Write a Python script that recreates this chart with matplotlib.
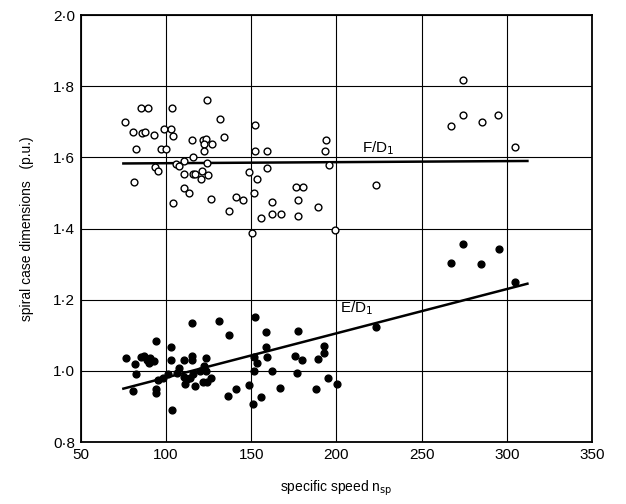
import matplotlib.pyplot as plt
from matplotlib.ticker import FuncFormatter

# F/D1 data (open circles)
f_x = [85.2, 89.7, 103.5, 123.8, 75.8, 131.9, 152.2, 80.9, 86.1, 87.5, 92.7, 99.0,
       102.8, 104.3, 134.3, 115.2, 121.5, 123.6, 127.1, 122.3, 82.4, 97.0, 99.8, 122.5,
       152.2, 159.4, 193.8, 193.4, 115.6, 110.3, 123.8, 105.8, 107.7, 93.8, 95.3, 81.5,
       110.7, 115.6, 117.0, 121.2, 120.4, 124.9, 148.5, 159.4, 153.2, 195.7, 110.7, 113.5,
       104.0, 126.2, 140.8, 145.1, 137.2, 151.5, 162.2, 176.2, 180.3, 177.4, 162.4, 167.2,
       156.0, 177.5, 188.9, 150.7, 199.4, 274.4, 266.9, 274.4, 285.4, 294.6, 305.0, 223.4]
f_y = [1.740, 1.740, 1.740, 1.761, 1.699, 1.709, 1.690, 1.672, 1.670, 1.672, 1.664, 1.680,
       1.680, 1.660, 1.658, 1.649, 1.649, 1.652, 1.639, 1.637, 1.623, 1.623, 1.624, 1.619,
       1.619, 1.619, 1.649, 1.619, 1.600, 1.590, 1.583, 1.581, 1.575, 1.572, 1.561, 1.531,
       1.552, 1.552, 1.552, 1.562, 1.540, 1.550, 1.559, 1.570, 1.539, 1.578, 1.513, 1.499,
       1.472, 1.483, 1.490, 1.479, 1.450, 1.500, 1.476, 1.517, 1.517, 1.479, 1.440, 1.440,
       1.431, 1.435, 1.460, 1.388, 1.397, 1.819, 1.687, 1.719, 1.699, 1.719, 1.629, 1.522]

# E/D1 data (filled circles)
e_x = [76.7, 81.7, 82.6, 80.4, 85.1, 87.3, 88.8, 90.7, 92.9, 89.9, 103.2, 103.2,
       110.3, 115.0, 115.0, 123.4, 107.5, 106.6, 101.0, 98.1, 95.3, 94.4, 94.4, 103.8,
       110.3, 112.2, 110.9, 114.0, 116.8, 120.2, 122.4, 123.4, 121.5, 124.3, 126.2, 136.4,
       141.1, 115.9, 94.2, 115.0, 131.2, 137.0, 152.1, 158.7, 158.9, 159.2, 153.2, 151.8,
       151.6, 162.4, 177.2, 175.5, 179.8, 177.0, 192.9, 192.9, 189.1, 195.1, 200.2, 188.2,
       166.9, 148.4, 155.7, 151.0, 223.2, 274.3, 267.3, 285.0, 295.3, 305.0]
e_y = [1.036, 1.019, 0.991, 0.944, 1.039, 1.042, 1.031, 1.036, 1.028, 1.023, 1.066, 1.030,
       1.031, 1.042, 1.031, 1.037, 1.009, 0.995, 0.991, 0.981, 0.975, 0.948, 0.939, 0.889,
       0.984, 0.977, 0.962, 0.981, 0.958, 1.000, 1.014, 1.000, 0.969, 0.969, 0.979, 0.928,
       0.948, 0.991, 1.083, 1.134, 1.139, 1.100, 1.152, 1.108, 1.068, 1.038, 1.021, 1.039,
       1.000, 1.000, 1.112, 1.041, 1.030, 0.993, 1.070, 1.049, 1.032, 0.979, 0.964, 0.948,
       0.951, 0.959, 0.927, 0.906, 1.124, 1.356, 1.303, 1.301, 1.343, 1.251]

# trend lines (end points)
f_line_x = [75, 312]
f_line_y = [1.583, 1.590]
e_line_x = [75, 312]
e_line_y = [0.950, 1.245]

x_ticks = [50, 100, 150, 200, 250, 300, 350]
y_ticks = [0.8, 1.0, 1.2, 1.4, 1.6, 1.8, 2.0]

plt.rcParams['font.family'] = ['Liberation Sans', 'DejaVu Sans']

fig = plt.figure(figsize=(6.26, 5.04), dpi=100)
ax = fig.add_axes([0.129, 0.123, 0.817, 0.847])

ax.grid(True, color='black', linewidth=0.8)
ax.set_axisbelow(True)

ax.plot(f_line_x, f_line_y, color='black', linewidth=1.8)
ax.plot(e_line_x, e_line_y, color='black', linewidth=1.8)

ax.scatter(f_x, f_y, s=24, facecolors='white', edgecolors='black', linewidths=1.0, zorder=3)
ax.scatter(e_x, e_y, s=24, color='black', zorder=3)

ax.text(215, 1.615, 'F/D$_1$', fontsize=11)
ax.text(202, 1.165, 'E/D$_1$', fontsize=11)

ax.set_xlim(50, 350)
ax.set_ylim(0.8, 2.0)
ax.set_xticks(x_ticks)
ax.set_yticks(y_ticks)
ax.yaxis.set_major_formatter(FuncFormatter(lambda v, p: f'{v:.1f}'.replace('.', '\u00b7')))
ax.tick_params(length=0, labelsize=11, pad=4)
for s in ax.spines.values():
    s.set_linewidth(1.3)

ax.set_xlabel('specific speed n$_{\\rm sp}$', fontsize=10, labelpad=12)
ax.set_ylabel('spiral case dimensions   (p.u.)', fontsize=10, labelpad=14)

fig.savefig('out.png', dpi=100)
